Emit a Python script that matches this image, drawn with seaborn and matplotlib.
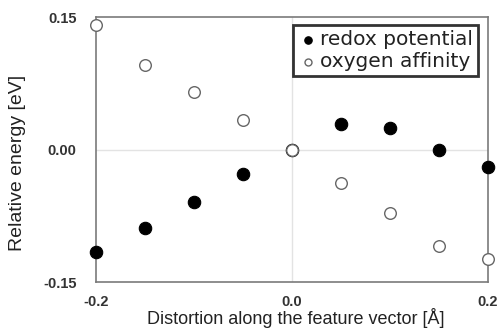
import numpy as np
import pandas as pd
import matplotlib
matplotlib.use("Agg")
import matplotlib.pyplot as plt
import seaborn as sns

# Daten
distortion = [-0.2, -0.15, -0.1, -0.05, 0.0, 0.05, 0.1, 0.15, 0.2]
redox_potential = [-0.116, -0.089, -0.059, -0.028, 0.0, 0.029, 0.024, 0.0, -0.020]
oxygen_affinity = [0.141, 0.096, 0.065, 0.033, 0.0, -0.038, -0.072, -0.109, -0.124]

df = pd.DataFrame({
    "x": distortion * 2,
    "y": redox_potential + oxygen_affinity,
    "series": ["redox potential"] * len(distortion) + ["oxygen affinity"] * len(distortion),
})

sns.set_style("white")
plt.rcParams["font.family"] = ["Liberation Sans", "DejaVu Sans"]

fig = plt.figure(figsize=(5.0, 3.28), dpi=100)
ax = fig.add_axes([0.192, 0.140, 0.784, 0.808])

# Gitterlinien nur bei 0
ax.axhline(0, color="#e3e3e3", lw=1.0, zorder=0)
ax.axvline(0, color="#e3e3e3", lw=1.0, zorder=0)

sns.scatterplot(data=df[df.series == "redox potential"], x="x", y="y", ax=ax,
                color="black", edgecolor="black", s=80, linewidth=0.8,
                label="redox potential", zorder=3, clip_on=False)
sns.scatterplot(data=df[df.series == "oxygen affinity"], x="x", y="y", ax=ax,
                color="white", edgecolor="#666666", s=70, linewidth=1.0,
                label="oxygen affinity", zorder=4, clip_on=False)

ax.set_xlim(-0.2, 0.2)
ax.set_ylim(-0.15, 0.15)
ax.set_xticks([-0.2, 0.0, 0.2])
ax.set_xticklabels(["-0.2", "0.0", "0.2"])
ax.set_yticks([-0.15, 0.0, 0.15])
ax.set_yticklabels(["-0.15", "0.00", "0.15"])
ax.tick_params(axis="x", length=0, pad=9, labelsize=10.5, labelcolor="#333333")
ax.tick_params(axis="y", length=0, pad=14, labelsize=10.5, labelcolor="#333333")
for lbl in ax.get_xticklabels() + ax.get_yticklabels():
    lbl.set_fontweight("bold")

for spine in ax.spines.values():
    spine.set_color("#7a7a7a")
    spine.set_linewidth(1.2)

ax.set_xlabel("Distortion along the feature vector [Å]", fontsize=13, color="#222222", va="center")
ax.set_ylabel("Relative energy [eV]", fontsize=14, color="#222222", va="center")
ax.xaxis.set_label_coords(0.51, -0.136)
ax.yaxis.set_label_coords(-0.199, 0.451)

leg = ax.legend(loc="upper right", bbox_to_anchor=(0.985, 0.985), frameon=True, fancybox=False,
                fontsize=14.5, handletextpad=0.1, borderpad=0.25, labelspacing=0.15,
                handlelength=1.0, borderaxespad=0.2, markerscale=0.6)
leg.get_frame().set_edgecolor("black")
leg.get_frame().set_linewidth(2.0)
for t in leg.get_texts():
    t.set_family(["DejaVu Sans"])
    t.set_color("#222222")

fig.savefig("out.png", dpi=100)
